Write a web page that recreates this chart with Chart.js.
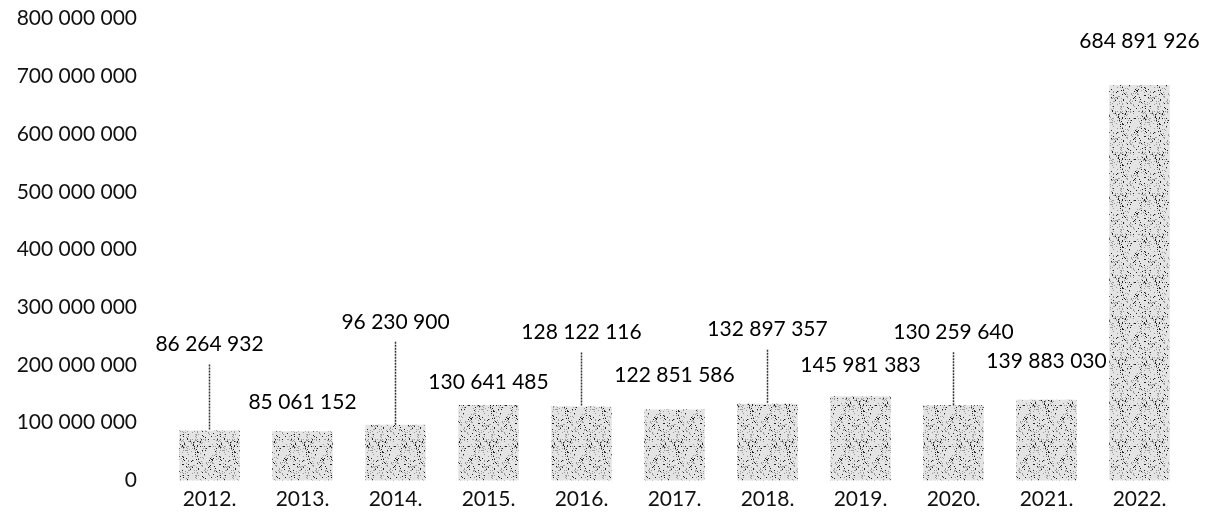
<!DOCTYPE html>
<html>
<head>
<meta charset="utf-8">
<script src="https://cdn.jsdelivr.net/npm/chart.js@4"></script>
<style>
  html, body { margin: 0; padding: 0; background: #fff; overflow: hidden; }
  #wrap { position: relative; width: 1213px; height: 539px; top: -20px; }
</style>
</head>
<body>
<div id="wrap"><canvas id="chart"></canvas></div>
<script>
// data
const years = ['2012.', '2013.', '2014.', '2015.', '2016.', '2017.', '2018.', '2019.', '2020.', '2021.', '2022.'];
const amounts = [86264932, 85061152, 96230900, 130641485, 128122116, 122851586, 132897357, 145981383, 130259640, 139883030, 684891926];
const yTicks = [0, 100000000, 200000000, 300000000, 400000000, 500000000, 600000000, 700000000, 800000000];

// label placement (pixels above bar top) and which labels get a leader line
const labelLift = [86, 29, 103, 23, 74, 34, 74, 31, 73, 38, 44];
const hasLeader = [true, false, true, false, true, false, true, false, true, false, false];

function fmt(n) {
    return String(n).replace(/\B(?=(\d{3})+(?!\d))/g, ' ');
}

// speckled grey fill, like the scanned bars
function speckle() {
    const c = document.createElement('canvas');
    c.width = 37; c.height = 41;
    const g = c.getContext('2d');
    g.fillStyle = '#e4e4e4';
    g.fillRect(0, 0, c.width, c.height);
    let s = 7;
    for (let i = 0; i < 260; i++) {
        s = (s * 1103515245 + 12345) % 2147483648;
        const x = s % 37;
        s = (s * 1103515245 + 12345) % 2147483648;
        const y = s % 41;
        g.fillStyle = i % 3 === 0 ? '#222' : '#9a9a9a';
        g.fillRect(x, y, 1, 1);
    }
    return g.createPattern(c, 'repeat');
}

const labelPlugin = {
    id: 'valueLabels',
    afterDatasetsDraw(chart) {
        const ctx = chart.ctx;
        const meta = chart.getDatasetMeta(0);
        ctx.save();
        ctx.font = '21px Lato';
        ctx.fillStyle = '#000';
        ctx.textAlign = 'center';
        ctx.textBaseline = 'middle';
        meta.data.forEach((bar, i) => {
            const ly = bar.y - labelLift[i];
            ctx.fillText(fmt(amounts[i]), bar.x, ly);
            if (hasLeader[i]) {
                ctx.strokeStyle = '#333';
                ctx.lineWidth = 1.5;
                ctx.setLineDash([2, 1]);
                ctx.beginPath();
                ctx.moveTo(bar.x, ly + 20);
                ctx.lineTo(bar.x, bar.y);
                ctx.stroke();
            }
        });
        ctx.restore();
    }
};

const ctx = document.getElementById('chart').getContext('2d');

new Chart(ctx, {
    type: 'bar',
    data: {
        labels: years,
        datasets: [{
            data: amounts,
            backgroundColor: speckle(),
            borderWidth: 0,
            categoryPercentage: 1,
            barPercentage: 0.65
        }]
    },
    options: {
        responsive: true,
        maintainAspectRatio: false,
        animation: false,
        layout: { padding: { top: 0, right: 27, bottom: 0, left: 0 } },
        plugins: {
            legend: { display: false },
            tooltip: { enabled: false }
        },
        scales: {
            x: {
                grid: { display: false, drawTicks: false },
                border: { display: false },
                ticks: {
                    color: '#111',
                    font: { family: 'Lato', size: 21 },
                    padding: 6,
                    maxRotation: 0
                }
            },
            y: {
                min: 0,
                max: 800000000,
                afterFit(scale) { scale.width = 163; },
                afterBuildTicks(scale) { scale.ticks = yTicks.map(v => ({ value: v })); },
                grid: { display: false, drawTicks: false },
                border: { display: false },
                ticks: {
                    color: '#111',
                    font: { family: 'Lato', size: 21 },
                    padding: 26,
                    callback: v => fmt(v)
                }
            }
        }
    },
    plugins: [labelPlugin]
});
</script>
</body>
</html>
